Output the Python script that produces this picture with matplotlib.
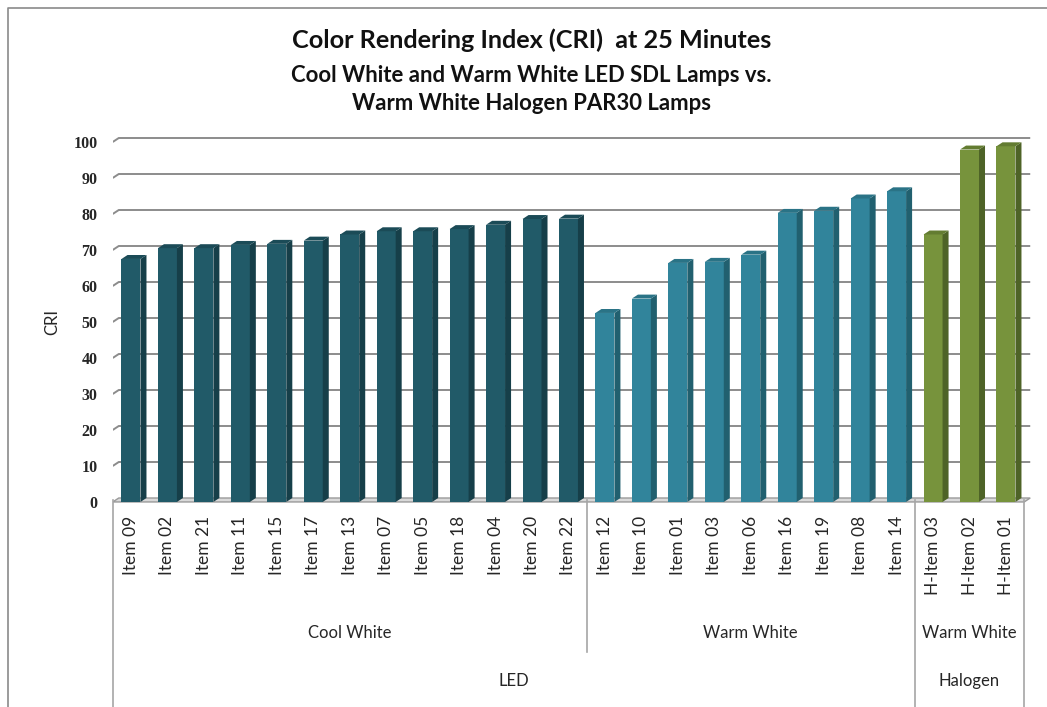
import matplotlib.pyplot as plt
from matplotlib.patches import Polygon
from matplotlib.lines import Line2D
from matplotlib.transforms import blended_transform_factory

# --- DATA ---

items = ['Item 09', 'Item 02', 'Item 21', 'Item 11', 'Item 15', 'Item 17', 'Item 13',
         'Item 07', 'Item 05', 'Item 18', 'Item 04', 'Item 20', 'Item 22',
         'Item 12', 'Item 10', 'Item 01', 'Item 03', 'Item 06', 'Item 16', 'Item 19',
         'Item 08', 'Item 14',
         'H-Item 03', 'H-Item 02', 'H-Item 01']
cri = [67.5, 70.5, 70.5, 71.4, 71.7, 72.6, 74.3, 75.2, 75.2, 75.8, 77.0, 78.6, 78.7,
       52.5, 56.5, 66.4, 66.7, 68.7, 80.3, 80.9, 84.3, 86.3,
       74.3, 97.9, 98.8]

color_groups = ['Cool White', 'Warm White', 'Warm White']
color_sizes = [13, 9, 3]
lamp_types = ['LED', 'Halogen']
lamp_sizes = [22, 3]

y_ticks = [0, 10, 20, 30, 40, 50, 60, 70, 80, 90, 100]

# front / side / top face colours per colour group
face_colors = [
    ('#215a68', '#163f49', '#1b4b57'),
    ('#31849b', '#21606f', '#2a7386'),
    ('#77933c', '#4e6327', '#637c31'),
]

# --- LAYOUT ---

W, H = 1047, 707
BAR_W = 0.52      # front face width (category units)
DEPTH_X = 0.165   # 3d depth offset, x (category units)
DEPTH_Y = 1.1     # 3d depth offset, y (value units)
GRID = '#8c8c8c'
AXIS = '#a6a6a6'
FONT = 'Lato'


def fy(py):
    return 1 - py / H


fig = plt.figure(figsize=(W / 100, H / 100), dpi=100)
ax = fig.add_axes([112.75 / W, fy(503.4), 918.75 / W, (503.4 - 134.4) / H])
ax.set_xlim(-0.5, 24.7)
ax.set_ylim(-1.5, 101)
for s in ax.spines.values():
    s.set_visible(False)
ax.set_xticks([])
ax.set_yticks([v - DEPTH_Y for v in y_ticks], labels=[str(v) for v in y_ticks])
ax.tick_params(axis='y', length=0, pad=11)
for lab in ax.get_yticklabels():
    lab.set_fontfamily('Liberation Serif')
    lab.set_fontweight('bold')
    lab.set_fontsize(11.5)
    lab.set_color('#262626')

n = len(items)
x_left, x_right = -0.5, n - 0.5

# back wall gridlines with the side-wall stub
for v in y_ticks[1:]:
    ax.plot([x_left, x_left + DEPTH_X, x_right + DEPTH_X],
            [v - DEPTH_Y, v, v], color=GRID, lw=1.4, zorder=1, solid_capstyle='butt')

# floor
floor = Polygon([(x_left, -DEPTH_Y), (x_right, -DEPTH_Y),
                 (x_right + DEPTH_X, 0), (x_left + DEPTH_X, 0)],
                closed=True, facecolor='#d9d9d9', edgecolor='#9a9a9a', lw=1, zorder=2)
ax.add_patch(floor)

# bars
group_of = []
for g, size in enumerate(color_sizes):
    group_of += [g] * size

for i, v in enumerate(cri):
    front, side, top = face_colors[group_of[i]]
    x0, x1 = i - BAR_W / 2, i + BAR_W / 2
    ax.bar(i, v, width=BAR_W, bottom=-DEPTH_Y, color=front, zorder=3, lw=0)
    ax.add_patch(Polygon([(x1, -DEPTH_Y), (x1 + DEPTH_X, 0), (x1 + DEPTH_X, v), (x1, v - DEPTH_Y)],
                         closed=True, facecolor=side, lw=0, zorder=3))
    ax.add_patch(Polygon([(x0, v - DEPTH_Y), (x1, v - DEPTH_Y), (x1 + DEPTH_X, v), (x0 + DEPTH_X, v)],
                         closed=True, facecolor=top, lw=0, zorder=3))

# --- MULTI-LEVEL CATEGORY AXIS ---

tr = blended_transform_factory(ax.transData, fig.transFigure)

for i, name in enumerate(items):
    ax.text(i, fy(516), name, rotation=90, ha='center', va='top', transform=tr,
            fontsize=12.5, family=FONT, color='#262626')

start = -0.5
for name, size in zip(color_groups, color_sizes):
    ax.text(start + size / 2, fy(633), name, ha='center', va='center', transform=tr,
            fontsize=12, family=FONT, color='#262626')
    start += size

start = -0.5
for name, size in zip(lamp_types, lamp_sizes):
    ax.text(start + size / 2, fy(681), name, ha='center', va='center', transform=tr,
            fontsize=12, family=FONT, color='#262626')
    start += size

# separators: colour-group boundaries stop above the lamp-type row
bounds_lamp = [-0.5]
for size in lamp_sizes:
    bounds_lamp.append(bounds_lamp[-1] + size)
bounds_color = [-0.5]
for size in color_sizes:
    bounds_color.append(bounds_color[-1] + size)

for b in bounds_lamp:
    fig.add_artist(Line2D([b, b], [fy(500), 0], transform=tr, color=AXIS, lw=1.2))
for b in bounds_color:
    if b not in bounds_lamp:
        fig.add_artist(Line2D([b, b], [fy(500), fy(652)], transform=tr, color=AXIS, lw=1.2))

# --- TITLES ---

fig.text(0.5 + 8 / W, fy(40), 'Color Rendering Index (CRI)  at 25 Minutes', ha='center', va='center',
         fontsize=18.2, fontweight='bold', family=FONT, color='#111111')
fig.text(0.5 + 8 / W, fy(75), 'Cool White and Warm White LED SDL Lamps vs.', ha='center', va='center',
         fontsize=15.9, fontweight='bold', family=FONT, color='#111111')
fig.text(0.5 + 8 / W, fy(103), 'Warm White Halogen PAR30 Lamps', ha='center', va='center',
         fontsize=15.9, fontweight='bold', family=FONT, color='#111111')

fig.text(52 / W, fy(322), 'CRI', rotation=90, ha='center', va='center',
         fontsize=12, family=FONT, color='#262626')

# outer chart frame
fig.add_artist(Line2D([8 / W, 8 / W, 1], [0, fy(8), fy(8)], transform=fig.transFigure,
                      color='#8a8a8a', lw=1.2))

fig.savefig('out.png', dpi=100, facecolor='white')
